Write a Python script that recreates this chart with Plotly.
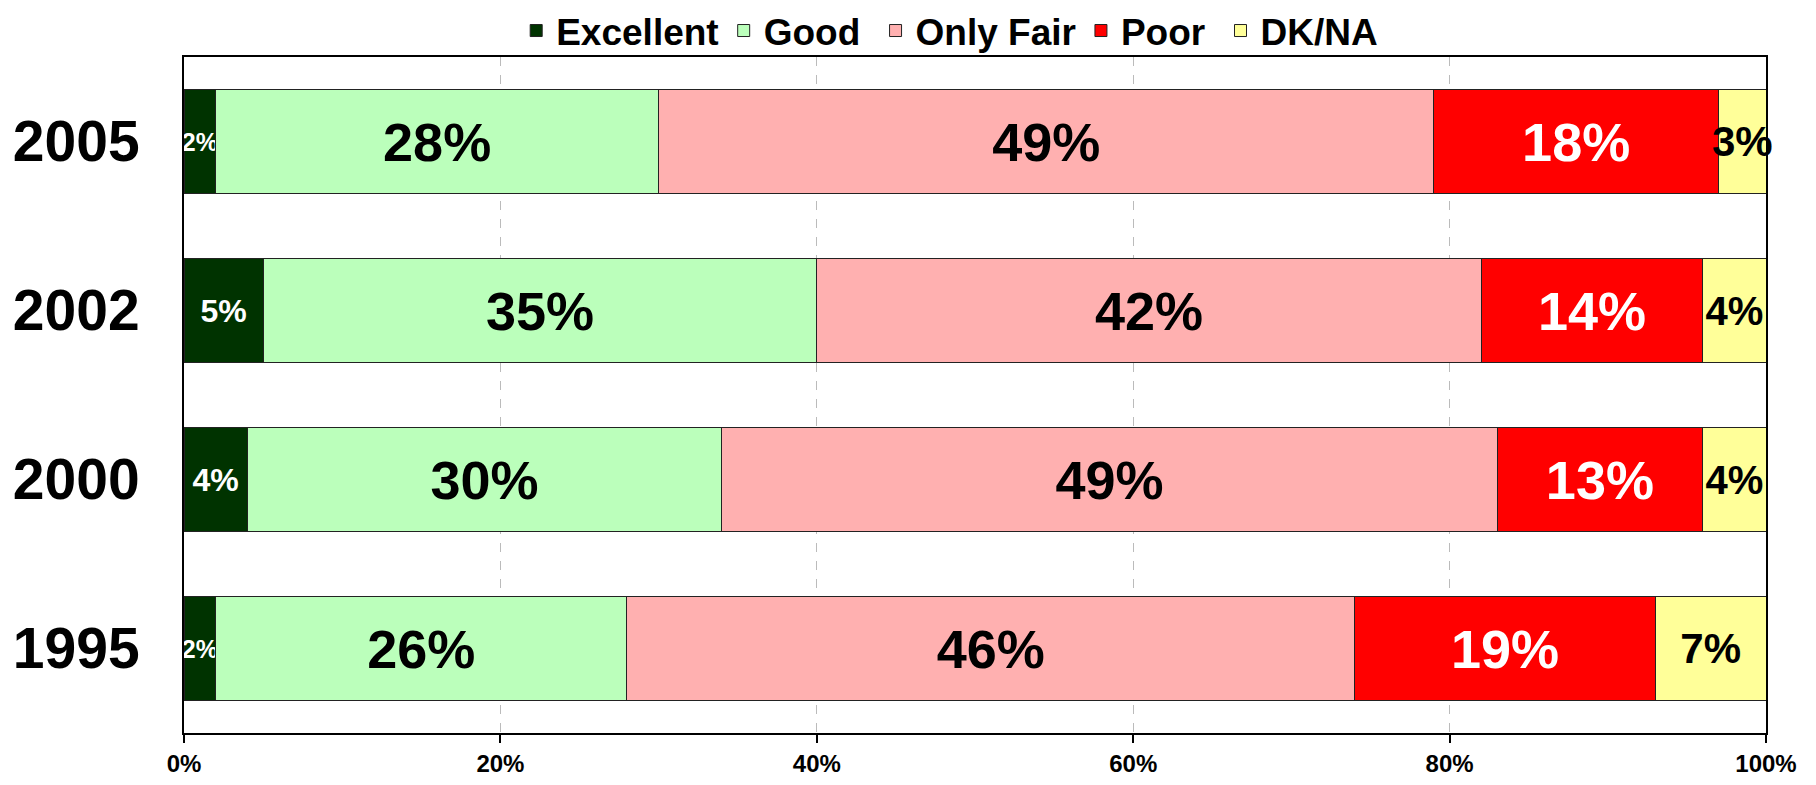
import plotly.graph_objects as go

years = ["1995", "2000", "2002", "2005"]
series_names = ["Excellent", "Good\u00a0", "Only Fair", "Poor\u00a0", "DK/NA"]
excellent = [2, 4, 5, 2]
good = [26, 30, 35, 28]
only_fair = [46, 49, 42, 49]
poor = [19, 13, 14, 18]
dk_na = [7, 4, 4, 3]
x_tick_vals = [0, 20, 40, 60, 80, 100]
x_tick_text = ["0%", "20%", "40%", "60%", "80%", "100%"]

series_values = [excellent, good, only_fair, poor, dk_na]
colors = ["#003300", "#BBFFBB", "#FFB0B0", "#FF0000", "#FFFF99"]
text_colors = ["white", "black", "black", "white", "black"]
label_sizes = [
    [25, 32, 32, 25],
    [54, 54, 54, 54],
    [54, 54, 54, 54],
    [54, 54, 54, 54],
    [42, 40, 40, 42],
]

FONT = "Arial, 'Liberation Sans', sans-serif"

fig = go.Figure()
for name, vals, col, tcol, sizes in zip(series_names, series_values, colors, text_colors, label_sizes):
    fig.add_trace(go.Bar(
        y=years, x=vals, name=f"<b>{name}</b>", orientation="h",
        marker=dict(color=col, line=dict(color="#222222", width=1)),
        text=[f"<b>{v}%</b>" for v in vals],
        textposition="inside", insidetextanchor="middle", textangle=0,
        constraintext="none", cliponaxis=False,
        textfont=dict(color=tcol, size=sizes, family=FONT),
        hoverinfo="skip",
    ))

fig.update_layout(
    barmode="stack",
    bargap=0.385,
    width=1800, height=769,
    margin=dict(l=176, r=42, t=49, b=44, autoexpand=False),
    paper_bgcolor="white", plot_bgcolor="white",
    font=dict(family=FONT, color="black"),
    showlegend=True,
    legend=dict(
        orientation="h", traceorder="normal",
        x=0.484, xanchor="center", y=1.0385, yanchor="middle",
        font=dict(size=37, family=FONT, color="black"),
        bgcolor="rgba(0,0,0,0)",
        itemwidth=30, tracegroupgap=0,
    ),
)
fig.update_xaxes(
    range=[0, 100], tickvals=x_tick_vals, ticktext=[f"<b>{t}</b>" for t in x_tick_text],
    tickfont=dict(size=24, family=FONT, color="black"),
    showgrid=True, gridcolor="#BBBBBB", griddash="dash", gridwidth=1,
    showline=True, linecolor="black", linewidth=2, mirror=True,
    ticks="outside", ticklen=8, tickcolor="black", tickwidth=2,
    ticklabelstandoff=0,
    zeroline=False, fixedrange=True, automargin=False,
)
fig.update_yaxes(
    categoryorder="array", categoryarray=years,
    tickvals=years, ticktext=[f"<b>{y}</b>" for y in years],
    tickfont=dict(size=57, family=FONT, color="black"),
    showline=True, linecolor="black", linewidth=2, mirror=True,
    ticks="outside", ticklen=31, tickcolor="rgba(0,0,0,0)",
    showgrid=False, fixedrange=True, automargin=False,
)

fig.write_html("out.html")
